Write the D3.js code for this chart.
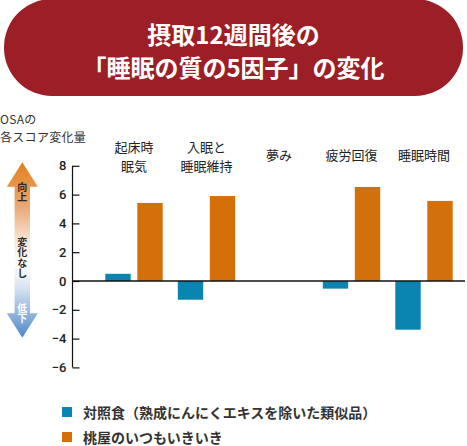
<html>
<head>
  <meta charset="utf-8">
  <script src="https://d3js.org/d3.v7.min.js"></script>
  <style>
    body { margin: 0; background: #fff; }
    text { font-family: "Noto Sans CJK JP", "Noto Sans", sans-serif; }
    .tick text { font-family: Roboto, "Noto Sans", sans-serif; font-weight: 500; font-size: 13px; fill: #222; }
    .tick line, .domain { stroke: #111; stroke-width: 1.2px; }
    .vert { writing-mode: vertical-rl; text-orientation: upright; }
  </style>
</head>
<body>
  <svg id="chart" width="467" height="446"></svg>
  <script>
    // data
    const categories = [["起床時", "眠気"], ["入眠と", "睡眠維持"], ["夢み"], ["疲労回復"], ["睡眠時間"]];
    const seriesNames = ["対照食（熟成にんにくエキスを除いた類似品）", "桃屋のいつもいきいき"];
    const control = [0.5, -1.3, 0, -0.53, -3.38];
    const momoya = [5.42, 5.9, 0, 6.53, 5.56];
    const yTicks = [8, 6, 4, 2, 0, -2, -4, -6];
    const titleLines = ["摂取12週間後の", "「睡眠の質の5因子」の変化"];
    const colors = ["#0a84b0", "#d4700a"];

    const svg = d3.select("#chart");
    const width = +svg.attr("width");

    // title banner
    svg.append("rect")
      .attr("x", 4).attr("y", -1)
      .attr("width", width - 8).attr("height", 97)
      .attr("rx", 48).attr("ry", 48)
      .attr("fill", "#9c1f27");
    svg.selectAll("text.title").data(titleLines).join("text")
      .attr("class", "title")
      .attr("x", width / 2)
      .attr("y", (d, i) => 44 + i * 33)
      .attr("text-anchor", "middle")
      .attr("fill", "#fff")
      .attr("font-size", 24)
      .attr("font-weight", 700)
      .text(d => d);

    // y axis title
    svg.selectAll("text.ytitle").data(["OSAの", "各スコア変化量"]).join("text")
      .attr("class", "ytitle")
      .attr("x", 0)
      .attr("y", (d, i) => 124 + i * 18)
      .attr("font-size", 12)
      .attr("letter-spacing", 0.3)
      .attr("fill", "#333")
      .text(d => d);

    // scales
    const y = d3.scaleLinear().domain([-6, 8]).range([367.4, 165.8]);
    const x = d3.scalePoint().domain(d3.range(categories.length)).range([134, 424]);
    const xSub = d3.scaleBand().domain([0, 1]).range([-28.7, 28.7]).paddingInner(0.206);

    const axisX = 72.5;
    svg.append("g")
      .attr("transform", `translate(${axisX},0)`)
      .call(d3.axisLeft(y).tickValues(yTicks).tickSize(-7).tickSizeOuter(0).tickPadding(6))
      .call(g => g.select(".domain").attr("d", `M0,${y(8)}V${y(-6)}`));

    // bars
    const rows = categories.map((c, i) => ({ i, vals: [control[i], momoya[i]] }));
    const groups = svg.selectAll("g.grp").data(rows).join("g")
      .attr("class", "grp")
      .attr("transform", d => `translate(${x(d.i)},0)`);
    groups.selectAll("rect").data(d => d.vals.map((v, s) => ({ v, s }))).join("rect")
      .attr("x", d => xSub(d.s))
      .attr("width", xSub.bandwidth())
      .attr("y", d => y(Math.max(0, d.v)))
      .attr("height", d => Math.abs(y(d.v) - y(0)))
      .attr("fill", d => colors[d.s]);

    // zero line
    svg.append("line")
      .attr("x1", axisX).attr("x2", 465)
      .attr("y1", y(0)).attr("y2", y(0))
      .attr("stroke", "#111").attr("stroke-width", 1.4);

    // category labels
    groups.each(function (d) {
      const lines = categories[d.i];
      const base = lines.length === 1 ? 160 : 152;
      d3.select(this).selectAll("text.cat").data(lines).join("text")
        .attr("class", "cat")
        .attr("x", 0)
        .attr("y", (t, k) => base + k * 19)
        .attr("text-anchor", "middle")
        .attr("font-size", 13)
        .attr("fill", "#222")
        .text(t => t);
    });

    // direction arrow
    const defs = svg.append("defs");
    const grad = defs.append("linearGradient")
      .attr("id", "arrowGrad")
      .attr("x1", 0).attr("y1", 0).attr("x2", 0).attr("y2", 1);
    [["0%", "#e47f1c"], ["25%", "#eaa772"], ["45%", "#f8e6d8"], ["58%", "#ffffff"], ["72%", "#d5e2f1"], ["100%", "#4f88c6"]]
      .forEach(s => grad.append("stop").attr("offset", s[0]).attr("stop-color", s[1]));

    const ax = 22.3, arrowTop = 162.3, arrowBot = 337.7, headH = 24.5, headW = 15.5, shaftW = 7.7;
    const arrowPath = d3.path();
    arrowPath.moveTo(ax, arrowTop);
    arrowPath.lineTo(ax + headW, arrowTop + headH);
    arrowPath.lineTo(ax + shaftW, arrowTop + headH);
    arrowPath.lineTo(ax + shaftW, arrowBot - headH);
    arrowPath.lineTo(ax + headW, arrowBot - headH);
    arrowPath.lineTo(ax, arrowBot);
    arrowPath.lineTo(ax - headW, arrowBot - headH);
    arrowPath.lineTo(ax - shaftW, arrowBot - headH);
    arrowPath.lineTo(ax - shaftW, arrowTop + headH);
    arrowPath.lineTo(ax - headW, arrowTop + headH);
    arrowPath.closePath();
    svg.append("path").attr("d", arrowPath.toString()).attr("fill", "url(#arrowGrad)");

    const arrowTexts = [
      { label: "向上", y0: 182, fill: "#2a2a2a" },
      { label: "変化なし", y0: 237, fill: "#2a2a2a" },
      { label: "低下", y0: 303, fill: "#ffffff" }
    ];
    svg.append("g").selectAll("text").data(arrowTexts).join("text")
      .attr("class", "vert")
      .attr("x", ax)
      .attr("y", d => d.y0)
      .attr("font-size", 10)
      .attr("font-weight", 700)
      .attr("letter-spacing", 0.5)
      .attr("fill", d => d.fill)
      .text(d => d.label);

    // legend
    const legend = svg.append("g").selectAll("g").data(seriesNames).join("g")
      .attr("transform", (d, i) => `translate(62,${407 + i * 25})`);
    legend.append("rect")
      .attr("width", 10).attr("height", 10)
      .attr("fill", (d, i) => colors[i]);
    legend.append("text")
      .attr("x", 21).attr("y", 10.5)
      .attr("font-size", 14)
      .attr("font-weight", 700)
      .attr("fill", "#333")
      .text(d => d);
  </script>
</body>
</html>
